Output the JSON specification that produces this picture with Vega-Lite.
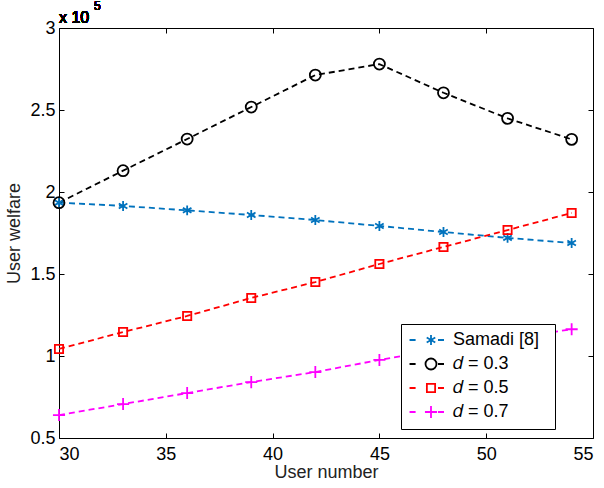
{
  "$schema": "https://vega.github.io/schema/vega-lite/v6.json",
  "width": 534,
  "height": 410,
  "autosize": "none",
  "padding": {"left": 59, "top": 28, "right": 11, "bottom": 50},
  "background": "white",
  "config": {
    "view": {"stroke": "black", "strokeWidth": 1},
    "font": "Liberation Sans",
    "axis": {
      "grid": false,
      "domain": false,
      "tickColor": "black",
      "tickSize": -5,
      "labelColor": "black",
      "titleColor": "#222222",
      "labelFont": "Liberation Sans",
      "titleFont": "Liberation Sans",
      "labelFontSize": 18,
      "titleFontSize": 18,
      "titleFontWeight": "normal"
    }
  },
  "data": {
    "values": [
      {"series": "Samadi [8]", "users": 30, "welfare": 193500},
      {"series": "Samadi [8]", "users": 33, "welfare": 191500},
      {"series": "Samadi [8]", "users": 36, "welfare": 188800},
      {"series": "Samadi [8]", "users": 39, "welfare": 186000},
      {"series": "Samadi [8]", "users": 42, "welfare": 182900},
      {"series": "Samadi [8]", "users": 45, "welfare": 179300},
      {"series": "Samadi [8]", "users": 48, "welfare": 175600},
      {"series": "Samadi [8]", "users": 51, "welfare": 172000},
      {"series": "Samadi [8]", "users": 54, "welfare": 168900},
      {"series": "d = 0.3", "users": 30, "welfare": 193500},
      {"series": "d = 0.3", "users": 33, "welfare": 213000},
      {"series": "d = 0.3", "users": 36, "welfare": 232300},
      {"series": "d = 0.3", "users": 39, "welfare": 251800},
      {"series": "d = 0.3", "users": 42, "welfare": 271300},
      {"series": "d = 0.3", "users": 45, "welfare": 278000},
      {"series": "d = 0.3", "users": 48, "welfare": 260500},
      {"series": "d = 0.3", "users": 51, "welfare": 244900},
      {"series": "d = 0.3", "users": 54, "welfare": 232100},
      {"series": "d = 0.5", "users": 30, "welfare": 104300},
      {"series": "d = 0.5", "users": 33, "welfare": 114600},
      {"series": "d = 0.5", "users": 36, "welfare": 124400},
      {"series": "d = 0.5", "users": 39, "welfare": 135400},
      {"series": "d = 0.5", "users": 42, "welfare": 145100},
      {"series": "d = 0.5", "users": 45, "welfare": 156100},
      {"series": "d = 0.5", "users": 48, "welfare": 166500},
      {"series": "d = 0.5", "users": 51, "welfare": 176800},
      {"series": "d = 0.5", "users": 54, "welfare": 187200},
      {"series": "d = 0.7", "users": 30, "welfare": 64000},
      {"series": "d = 0.7", "users": 33, "welfare": 70700},
      {"series": "d = 0.7", "users": 36, "welfare": 77400},
      {"series": "d = 0.7", "users": 39, "welfare": 84100},
      {"series": "d = 0.7", "users": 42, "welfare": 90200},
      {"series": "d = 0.7", "users": 45, "welfare": 97600},
      {"series": "d = 0.7", "users": 48, "welfare": 104300},
      {"series": "d = 0.7", "users": 51, "welfare": 110400},
      {"series": "d = 0.7", "users": 54, "welfare": 116300}
    ]
  },
  "layer": [
    {
      "mark": {"type": "line", "strokeDash": [6, 4], "strokeWidth": 1.8},
      "encoding": {
        "x": {"field": "users", "type": "quantitative", "scale": {"domain": [30, 55], "nice": false},
              "axis": {"orient": "bottom", "values": [30, 35, 40, 45, 50, 55], "title": "User number", "labelPadding": 12, "titlePadding": 0}},
        "y": {"field": "welfare", "type": "quantitative", "scale": {"domain": [50000, 300000], "nice": false, "zero": false},
              "axis": {"orient": "left", "values": [50000, 100000, 150000, 200000, 250000, 300000], "labelExpr": "format(datum.value / 100000, '~g')", "title": "User welfare", "labelPadding": 9, "titlePadding": 6}},
        "color": {"field": "series", "type": "nominal",
                  "scale": {"domain": ["Samadi [8]", "d = 0.3", "d = 0.5", "d = 0.7"], "range": ["#0072BD", "#000000", "#FF0000", "#FF00FF"]},
                  "legend": null}
      }
    },
    {
      "mark": {"type": "point", "filled": false, "strokeWidth": 1.8, "size": 121, "opacity": 1},
      "encoding": {
        "x": {"field": "users", "type": "quantitative", "axis": null},
        "y": {"field": "welfare", "type": "quantitative", "axis": null},
        "color": {"field": "series", "type": "nominal", "legend": null},
        "shape": {"field": "series", "type": "nominal", "legend": null,
                  "scale": {"domain": ["Samadi [8]", "d = 0.3", "d = 0.5", "d = 0.7"],
                            "range": ["M0,-0.9L0,0.9M-0.78,-0.45L0.78,0.45M-0.78,0.45L0.78,-0.45",
                                      "M1,0A1,1 0 1,1 -1,0A1,1 0 1,1 1,0Z",
                                      "M-0.75,-0.75H0.75V0.75H-0.75Z",
                                      "M-1.1,0H1.1M0,-1.1V1.1"]}}
      }
    },
    {
      "transform": [{"filter": "false"}],
      "mark": {"type": "point", "filled": false, "strokeWidth": 1.8, "size": 121, "opacity": 1},
      "encoding": {
        "x": {"field": "users", "type": "quantitative", "axis": null},
        "y": {"field": "welfare", "type": "quantitative", "axis": null},
        "stroke": {"field": "series", "type": "nominal",
                   "scale": {"domain": ["Samadi [8]", "d = 0.3", "d = 0.5", "d = 0.7"], "range": ["#0072BD", "#000000", "#FF0000", "#FF00FF"]},
                   "legend": {"title": ".", "titleOrient": "right", "titleColor": "white", "titleFontSize": 10, "titlePadding": 6, "orient": "none", "legendX": 342, "legendY": 296, "fillColor": "white", "strokeColor": "black", "padding": 7, "rowPadding": 5, "symbolSize": 121, "symbolStrokeWidth": 1.8, "symbolOffset": 14, "labelOffset": 13, "labelFontSize": 18, "labelFont": "Liberation Sans", "labelColor": "black", "labelExpr": "replace(datum.label, 'd =', '𝑑 =')"}},
        "shape": {"field": "series", "type": "nominal",
                  "scale": {"domain": ["Samadi [8]", "d = 0.3", "d = 0.5", "d = 0.7"],
                            "range": ["M-3.9,0H-2.8M1.27,0H2.36M0,-0.9L0,0.9M-0.78,-0.45L0.78,0.45M-0.78,0.45L0.78,-0.45",
                                      "M-3.9,0H-2.8M1.27,0H2.36M1,0A1,1 0 1,1 -1,0A1,1 0 1,1 1,0",
                                      "M-3.9,0H-2.8M1.27,0H2.36M-0.75,-0.75H0.75V0.75H-0.75Z",
                                      "M-3.9,0H-2.8M1.27,0H2.36M-1.1,0H1.1M0,-1.1V1.1"]},
                  "legend": {"title": ".", "titleOrient": "right", "titleColor": "white", "titleFontSize": 10, "titlePadding": 6, "orient": "none", "legendX": 342, "legendY": 296, "fillColor": "white", "strokeColor": "black", "padding": 7, "rowPadding": 5, "symbolSize": 121, "symbolStrokeWidth": 1.8, "symbolOffset": 14, "labelOffset": 13, "labelFontSize": 18, "labelFont": "Liberation Sans", "labelColor": "black", "labelExpr": "replace(datum.label, 'd =', '𝑑 =')"}}
      }
    },
    {
      "transform": [{"filter": "false"}],
      "mark": {"type": "point", "opacity": 0},
      "encoding": {
        "x": {"field": "users", "type": "quantitative",
              "axis": {"orient": "top", "values": [30, 35, 40, 45, 50, 55], "labels": false, "title": null}},
        "y": {"field": "welfare", "type": "quantitative",
              "axis": {"orient": "right", "values": [50000, 100000, 150000, 200000, 250000, 300000], "labels": false, "title": null}}
      }
    },
    {
      "mark": {"type": "text", "text": "x 10", "align": "left", "baseline": "alphabetic", "fontSize": 16, "dx": 0, "dy": -5, "color": "black"},
      "encoding": {
        "x": {"datum": 30, "type": "quantitative", "axis": null},
        "y": {"datum": 300000, "type": "quantitative", "axis": null}
      }
    },
    {
      "mark": {"type": "text", "text": "5", "align": "left", "baseline": "alphabetic", "fontSize": 12, "dx": 35, "dy": -18, "color": "black"},
      "encoding": {
        "x": {"datum": 30, "type": "quantitative", "axis": null},
        "y": {"datum": 300000, "type": "quantitative", "axis": null}
      }
    }
  ],
  "resolve": {
    "scale": {"shape": "independent", "stroke": "independent"},
    "axis": {"x": "independent", "y": "independent"}
  }
}
